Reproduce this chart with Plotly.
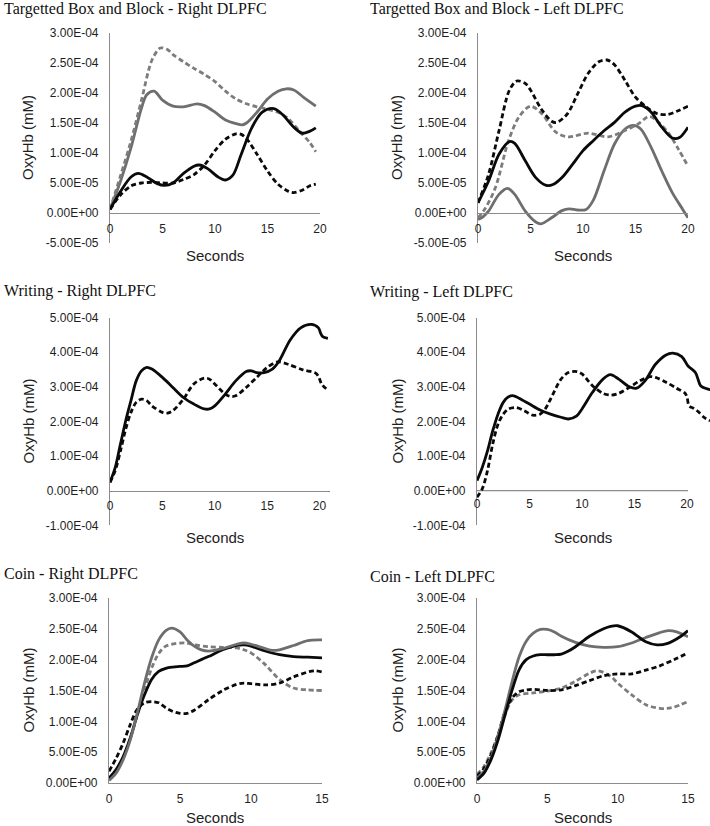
import plotly.graph_objects as go

# ---------------- DATA (values in units of 1E-04 mM) ----------------
# Targetted Box and Block - Right DLPFC
bbr_gs_t = [0, 1, 2, 3, 3.5, 4.2, 5, 6, 7, 8.3, 9, 10, 11, 12, 12.6, 13, 14, 15, 16, 16.8, 17.5, 18.5, 19.6]
bbr_gs_v = [0.06, 0.53, 1.09, 1.75, 1.97, 2.03, 1.88, 1.78, 1.77, 1.82, 1.79, 1.68, 1.55, 1.49, 1.47, 1.50, 1.68, 1.90, 2.03, 2.07, 2.05, 1.92, 1.78]
bbr_gd_t = [0, 1, 2, 3, 4, 4.8, 5.5, 6, 7, 8, 9, 10, 11, 12, 13, 14, 15, 16, 17, 18, 19, 19.6]
bbr_gd_v = [0.06, 0.62, 1.2, 1.88, 2.55, 2.75, 2.72, 2.64, 2.52, 2.41, 2.31, 2.19, 2.03, 1.9, 1.82, 1.77, 1.73, 1.68, 1.57, 1.37, 1.18, 1.02]
bbr_ks_t = [0, 1, 2, 2.7, 3.5, 4.5, 5.2, 6, 7, 8, 8.5, 9.3, 10.3, 11, 11.7, 12.5, 13.5, 14.5, 15.6, 16.5, 17.5, 18.3, 19, 19.6]
bbr_ks_v = [0.06, 0.36, 0.6, 0.66, 0.6, 0.49, 0.46, 0.5, 0.66, 0.78, 0.8, 0.74, 0.6, 0.55, 0.63, 0.98, 1.42, 1.68, 1.74, 1.63, 1.43, 1.33, 1.36, 1.42]
bbr_kd_t = [0, 1, 2, 3, 4, 5, 6, 7, 8, 9, 10, 11, 12, 12.5, 13, 14, 15, 16, 17, 17.5, 18.3, 19, 19.6]
bbr_kd_v = [0.06, 0.3, 0.45, 0.5, 0.51, 0.5, 0.5, 0.56, 0.64, 0.8, 1.04, 1.23, 1.32, 1.31, 1.24, 0.98, 0.7, 0.48, 0.36, 0.34, 0.38, 0.45, 0.48]

# Targetted Box and Block - Left DLPFC
bbl_kd_t = [0, 1, 2, 3, 3.7, 4.5, 5, 6, 7, 7.5, 8.5, 9.5, 10.5, 11.5, 12.3, 13, 14, 15, 16, 17, 18, 19, 20]
bbl_kd_v = [0.17, 0.64, 1.37, 2.05, 2.2, 2.16, 2.05, 1.74, 1.53, 1.51, 1.65, 1.99, 2.33, 2.52, 2.55, 2.47, 2.21, 1.93, 1.77, 1.66, 1.64, 1.7, 1.78]
bbl_gd_t = [0, 0.7, 1.65, 2.9, 3.9, 5, 6.1, 7.4, 8.6, 10.5, 12.4, 13.7, 15.3, 16.3, 17.2, 18.2, 19.1, 20]
bbl_gd_v = [-0.08, 0.08, 0.42, 1.2, 1.6, 1.78, 1.65, 1.35, 1.27, 1.33, 1.27, 1.35, 1.49, 1.61, 1.51, 1.32, 1.06, 0.78]
bbl_ks_t = [0, 1, 2, 3, 3.5, 4.5, 5.5, 6.5, 7.2, 8, 9, 10, 11, 12, 13, 14, 15, 15.6, 16.5, 17.5, 18.5, 19.2, 20]
bbl_ks_v = [0.17, 0.53, 0.98, 1.19, 1.16, 0.87, 0.59, 0.46, 0.48, 0.59, 0.81, 1.04, 1.21, 1.37, 1.51, 1.68, 1.78, 1.79, 1.68, 1.43, 1.25, 1.26, 1.43]
bbl_gs_t = [0, 0.5, 1, 2, 2.8, 3.5, 4.5, 5.5, 6, 7, 8, 8.7, 9.5, 10.3, 11, 12, 13, 14, 14.8, 15.5, 16.5, 17.5, 18.5, 19.5, 20]
bbl_gs_v = [-0.11, -0.06, 0.03, 0.31, 0.41, 0.31, 0.03, -0.15, -0.18, -0.08, 0.04, 0.07, 0.05, 0.06, 0.22, 0.7, 1.15, 1.4, 1.46, 1.4, 1.09, 0.7, 0.34, 0.06, -0.08]

# Writing - Right DLPFC
wr_ks_t = [0, 0.5, 1, 1.5, 2, 2.5, 3, 3.5, 4, 5, 6, 7, 8, 9, 9.5, 10, 11, 12, 13, 13.5, 14, 14.7, 15.5, 16.1, 17.2, 18.2, 19.2, 19.9, 20.1, 20.3, 20.8]
wr_ks_v = [0.24, 0.67, 1.35, 2.02, 2.6, 3.17, 3.46, 3.56, 3.51, 3.27, 2.98, 2.69, 2.5, 2.36, 2.36, 2.45, 2.79, 3.17, 3.44, 3.46, 3.41, 3.41, 3.51, 3.72, 4.35, 4.7, 4.8, 4.7, 4.55, 4.45, 4.4]
wr_kd_t = [0, 0.5, 1, 1.5, 2, 2.5, 3, 3.5, 4, 5, 5.5, 6, 7, 8, 9, 9.5, 10, 11, 11.5, 12, 13, 14, 15, 16, 17, 18.4, 19.6, 19.9, 20.2, 20.8]
wr_kd_v = [0.24, 0.58, 1.15, 1.78, 2.26, 2.55, 2.64, 2.6, 2.45, 2.26, 2.24, 2.31, 2.64, 3.08, 3.25, 3.22, 3.08, 2.79, 2.72, 2.74, 2.98, 3.27, 3.56, 3.72, 3.65, 3.49, 3.4, 3.3, 3.08, 2.9]

# Writing - Left DLPFC
wl_ks_t = [0, 0.5, 1, 1.5, 2, 2.5, 3, 3.5, 4, 5, 6, 7, 8, 8.7, 9.5, 10, 11, 12, 12.7, 13.5, 14.5, 15.2, 16, 17, 18, 18.65, 19.5, 20.1, 20.8, 21.1, 21.3, 22, 22.2]
wl_ks_v = [0.29, 0.67, 1.15, 1.73, 2.21, 2.55, 2.71, 2.74, 2.67, 2.5, 2.33, 2.21, 2.12, 2.07, 2.16, 2.36, 2.84, 3.22, 3.35, 3.22, 3.0, 2.96, 3.17, 3.65, 3.92, 3.97, 3.87, 3.6, 3.41, 3.17, 3.03, 2.93, 2.92]
wl_kd_t = [0, 0.5, 1, 1.5, 2, 2.5, 3, 3.7, 4.5, 5.3, 6, 6.5, 7, 8, 8.7, 9.5, 10, 11, 12, 12.7, 13.5, 14.5, 15.5, 16.5, 17, 18, 19, 19.8, 20.0, 20.2, 20.6, 21, 21.7, 22.2]
wl_kd_v = [-0.19, 0.05, 0.58, 1.35, 1.92, 2.21, 2.36, 2.4, 2.31, 2.18, 2.21, 2.36, 2.64, 3.22, 3.41, 3.44, 3.37, 3.03, 2.81, 2.76, 2.81, 2.98, 3.17, 3.29, 3.27, 3.13, 2.96, 2.82, 2.7, 2.45, 2.38, 2.3, 2.1, 2.02]

# Coin - Right DLPFC
cr_gs_t = [0, 0.5, 1, 1.5, 2, 2.5, 3, 3.5, 4, 4.4, 5, 5.5, 6, 6.5, 7, 8, 9, 9.5, 10, 11, 11.5, 12, 13, 14, 15]
cr_gs_v = [0.04, 0.16, 0.38, 0.7, 1.14, 1.62, 2.03, 2.32, 2.47, 2.51, 2.45, 2.32, 2.22, 2.16, 2.14, 2.18, 2.25, 2.27, 2.25, 2.18, 2.15, 2.16, 2.23, 2.31, 2.32]
cr_gd_t = [0, 0.5, 1, 1.5, 2, 2.5, 3, 3.5, 4, 5, 5.5, 6, 7, 8, 9, 9.5, 10, 11, 12, 13, 14, 15]
cr_gd_v = [0.07, 0.19, 0.41, 0.73, 1.11, 1.51, 1.86, 2.1, 2.22, 2.27, 2.27, 2.24, 2.21, 2.2, 2.19, 2.16, 2.11, 1.92, 1.68, 1.54, 1.51, 1.5]
cr_ks_t = [0, 0.5, 1, 1.5, 2, 2.5, 3, 3.5, 4, 4.5, 5, 5.5, 6, 7, 8, 9, 9.5, 10, 11, 12, 13, 14, 15]
cr_ks_v = [0.08, 0.22, 0.43, 0.73, 1.11, 1.43, 1.68, 1.81, 1.86, 1.88, 1.89, 1.9, 1.95, 2.05, 2.16, 2.23, 2.24, 2.22, 2.14, 2.08, 2.05, 2.04, 2.03]
cr_kd_t = [0, 0.5, 1, 1.5, 2, 2.5, 3, 3.5, 4, 4.5, 5, 5.5, 6, 7, 8, 9, 9.5, 10, 11, 12, 13, 14, 14.5, 15]
cr_kd_v = [0.19, 0.4, 0.65, 0.95, 1.2, 1.3, 1.32, 1.3, 1.22, 1.16, 1.13, 1.13, 1.18, 1.35, 1.5, 1.6, 1.62, 1.61, 1.59, 1.62, 1.72, 1.8, 1.82, 1.8]

# Coin - Left DLPFC
cl_gs_t = [0, 0.5, 1, 1.5, 2, 2.5, 3, 3.5, 4, 4.5, 5, 5.5, 6, 7, 8, 9, 10, 11, 12, 13, 13.6, 14.2, 15]
cl_gs_v = [0.08, 0.19, 0.41, 0.76, 1.19, 1.65, 2.05, 2.3, 2.43, 2.49, 2.49, 2.45, 2.38, 2.28, 2.22, 2.2, 2.21, 2.27, 2.36, 2.44, 2.47, 2.45, 2.37]
cl_ks_t = [0, 0.5, 1, 1.5, 2, 2.5, 3, 3.5, 4, 4.5, 5, 5.5, 6, 6.5, 7, 8, 9, 9.5, 10, 11, 12, 12.8, 13.5, 14.5, 15]
cl_ks_v = [0.05, 0.16, 0.38, 0.7, 1.11, 1.51, 1.84, 2.0, 2.06, 2.08, 2.08, 2.08, 2.09, 2.14, 2.21, 2.38, 2.5, 2.54, 2.55, 2.45, 2.29, 2.24, 2.26, 2.38, 2.47]
cl_kd_t = [0, 0.5, 1, 1.5, 2, 2.5, 3, 3.5, 4, 5, 6, 7, 8, 9, 10, 11, 12, 13, 14, 15]
cl_kd_v = [0.11, 0.24, 0.46, 0.78, 1.16, 1.38, 1.48, 1.51, 1.52, 1.5, 1.51, 1.58, 1.66, 1.74, 1.77, 1.77, 1.83, 1.9, 2.0, 2.11]
cl_gd_t = [0, 0.5, 1, 1.5, 2, 2.5, 3, 4, 5, 6, 7, 8, 8.6, 9.5, 10, 11, 12, 13, 13.5, 14, 15]
cl_gd_v = [0.14, 0.27, 0.49, 0.78, 1.11, 1.35, 1.43, 1.46, 1.49, 1.54, 1.65, 1.78, 1.82, 1.73, 1.62, 1.43, 1.27, 1.21, 1.21, 1.23, 1.32]

# Axis ticks
x_ticks_20 = [0, 5, 10, 15, 20]
x_ticks_15 = [0, 5, 10, 15]
y_ticks_bb = [-0.5, 0, 0.5, 1.0, 1.5, 2.0, 2.5, 3.0]
y_labels_bb = ["-5.00E-05", "0.00E+00", "5.00E-05", "1.00E-04", "1.50E-04", "2.00E-04", "2.50E-04", "3.00E-04"]
y_ticks_wr = [-1, 0, 1, 2, 3, 4, 5]
y_labels_wr = ["-1.00E-04", "0.00E+00", "1.00E-04", "2.00E-04", "3.00E-04", "4.00E-04", "5.00E-04"]
y_ticks_co = [0, 0.5, 1.0, 1.5, 2.0, 2.5, 3.0]
y_labels_co = ["0.00E+00", "5.00E-05", "1.00E-04", "1.50E-04", "2.00E-04", "2.50E-04", "3.00E-04"]

titles = ["Targetted Box and Block - Right DLPFC", "Targetted Box and Block - Left DLPFC",
          "Writing - Right DLPFC", "Writing - Left DLPFC",
          "Coin - Right DLPFC", "Coin - Left DLPFC"]

# ---------------- STYLE ----------------
W, H = 710, 826
BLACK = "#0a0a0a"
GRAY_S = "#6e6e6e"
GRAY_D = "#7c7c7c"
AXIS = "#8c8c8c"
TICKC = "#1e1e1e"
SANS = "Liberation Sans, Arial, sans-serif"
SERIF = "Liberation Serif, Times New Roman, serif"
LW = 2.8
DASH = "5px,3px"

def px(x):
    return x / W

def py(y):
    return 1 - y / H

STY = {
    "ks": dict(color=BLACK, width=LW, dash="solid"),
    "kd": dict(color=BLACK, width=LW, dash=DASH),
    "gs": dict(color=GRAY_S, width=LW, dash="solid"),
    "gd": dict(color=GRAY_D, width=LW, dash=DASH),
}

# panel layout: pixel boxes (left, right, top, bottom)
panels = [
    dict(box=(110, 320, 33, 243), xr=[0, 20], yr=[-0.5, 3.0], xt=x_ticks_20, yt=y_ticks_bb, yl=y_labels_bb,
         series=[("gs", bbr_gs_t, bbr_gs_v), ("gd", bbr_gd_t, bbr_gd_v), ("kd", bbr_kd_t, bbr_kd_v), ("ks", bbr_ks_t, bbr_ks_v)],
         title=(2, 9), stitle=(215, 255), xline=None),
    dict(box=(478, 688, 33, 243), xr=[0, 20], yr=[-0.5, 3.0], xt=x_ticks_20, yt=y_ticks_bb, yl=y_labels_bb,
         series=[("gs", bbl_gs_t, bbl_gs_v), ("gd", bbl_gd_t, bbl_gd_v), ("kd", bbl_kd_t, bbl_kd_v), ("ks", bbl_ks_t, bbl_ks_v)],
         title=(368, 9), stitle=(583, 255), xline=None),
    dict(box=(110, 330, 317.5, 525.3), xr=[0, 21], yr=[-1, 5], xt=x_ticks_20, yt=y_ticks_wr, yl=y_labels_wr,
         series=[("kd", wr_kd_t, wr_kd_v), ("ks", wr_ks_t, wr_ks_v)],
         title=(2, 291), stitle=(215, 537), xline=None),
    dict(box=(477, 710, 317.5, 525.3), xr=[0, 22.19], yr=[-1, 5], xt=x_ticks_20, yt=y_ticks_wr, yl=y_labels_wr,
         series=[("kd", wl_kd_t, wl_kd_v), ("ks", wl_ks_t, wl_ks_v)],
         title=(368, 292), stitle=(583, 537), xline=20.1),
    dict(box=(109, 322, 598, 783), xr=[0, 15], yr=[0, 3.0], xt=x_ticks_15, yt=y_ticks_co, yl=y_labels_co,
         series=[("gd", cr_gd_t, cr_gd_v), ("kd", cr_kd_t, cr_kd_v), ("ks", cr_ks_t, cr_ks_v), ("gs", cr_gs_t, cr_gs_v)],
         title=(2, 574), stitle=(215, 817), xline=None),
    dict(box=(477, 688, 598, 783), xr=[0, 15], yr=[0, 3.0], xt=x_ticks_15, yt=y_ticks_co, yl=y_labels_co,
         series=[("gd", cl_gd_t, cl_gd_v), ("kd", cl_kd_t, cl_kd_v), ("gs", cl_gs_t, cl_gs_v), ("ks", cl_ks_t, cl_ks_v)],
         title=(368, 576), stitle=(583, 817), xline=None),
]

fig = go.Figure()
annotations = []
shapes = []
layout_axes = {}

for i, p in enumerate(panels):
    n = i + 1
    xs = "" if n == 1 else str(n)
    l, r, t, b = p["box"]
    for key, tt, vv in p["series"]:
        fig.add_trace(go.Scatter(x=tt, y=vv, mode="lines", xaxis="x" + xs, yaxis="y" + xs,
                                 line=dict(shape="spline", smoothing=0.9, **STY[key]),
                                 hoverinfo="skip", showlegend=False))
    y0, y1 = p["yr"]
    zero_px = t + (b - t) * (y1 - 0) / (y1 - y0)
    xa = dict(domain=[px(l), px(r)], range=p["xr"], showgrid=False, zeroline=False, automargin=False,
              tickvals=p["xt"], ticktext=[str(v) for v in p["xt"]], ticks="",
              tickfont=dict(family=SANS, size=12, color=TICKC), ticklabelstandoff=4,
              showline=(p["xline"] is None), linecolor=AXIS, linewidth=1.2, fixedrange=True)
    if y0 < 0:
        xa.update(anchor="free", position=py(zero_px))
    else:
        xa.update(anchor="y" + xs)
    ya = dict(domain=[py(b), py(t)], range=p["yr"], showgrid=False, zeroline=False, automargin=False,
              tickvals=p["yt"], ticktext=p["yl"], ticks="", anchor="x" + xs,
              tickfont=dict(family=SANS, size=12, color=TICKC), ticklabelstandoff=8,
              showline=True, linecolor=AXIS, linewidth=1.2, fixedrange=True)
    layout_axes["xaxis" + xs] = xa
    layout_axes["yaxis" + xs] = ya
    if p["xline"] is not None:
        shapes.append(dict(type="line", xref="x" + xs, yref="y" + xs, x0=0, x1=p["xline"], y0=0, y1=0,
                           line=dict(color=AXIS, width=1.2), layer="below"))
    # titles
    tx, ty = p["title"]
    annotations.append(dict(text=titles[i], x=px(tx), y=py(ty), xref="paper", yref="paper",
                            xanchor="left", yanchor="middle", showarrow=False,
                            font=dict(family=SERIF, size=16, color="#111111")))
    # axis titles
    sx, sy = p["stitle"]
    annotations.append(dict(text="Seconds", x=px(sx), y=py(sy), xref="paper", yref="paper",
                            xanchor="center", yanchor="middle",
                            showarrow=False, font=dict(family=SANS, size=15, color=TICKC)))
    annotations.append(dict(text="OxyHb (mM)", x=px(28 if l < 300 else 397), y=py((t + b) / 2),
                            xref="paper", yref="paper", xanchor="center", yanchor="middle", textangle=-90,
                            showarrow=False, font=dict(family=SANS, size=15, color=TICKC)))

fig.update_layout(width=W, height=H, margin=dict(l=0, r=0, t=0, b=0, autoexpand=False),
                  paper_bgcolor="white", plot_bgcolor="white", showlegend=False,
                  annotations=annotations, shapes=shapes, **layout_axes)

fig.write_html("out.html", config={"displayModeBar": False},
               post_script="document.body.style.margin='0px';document.body.style.padding='0px';"
                           "document.body.style.overflow='hidden';")
